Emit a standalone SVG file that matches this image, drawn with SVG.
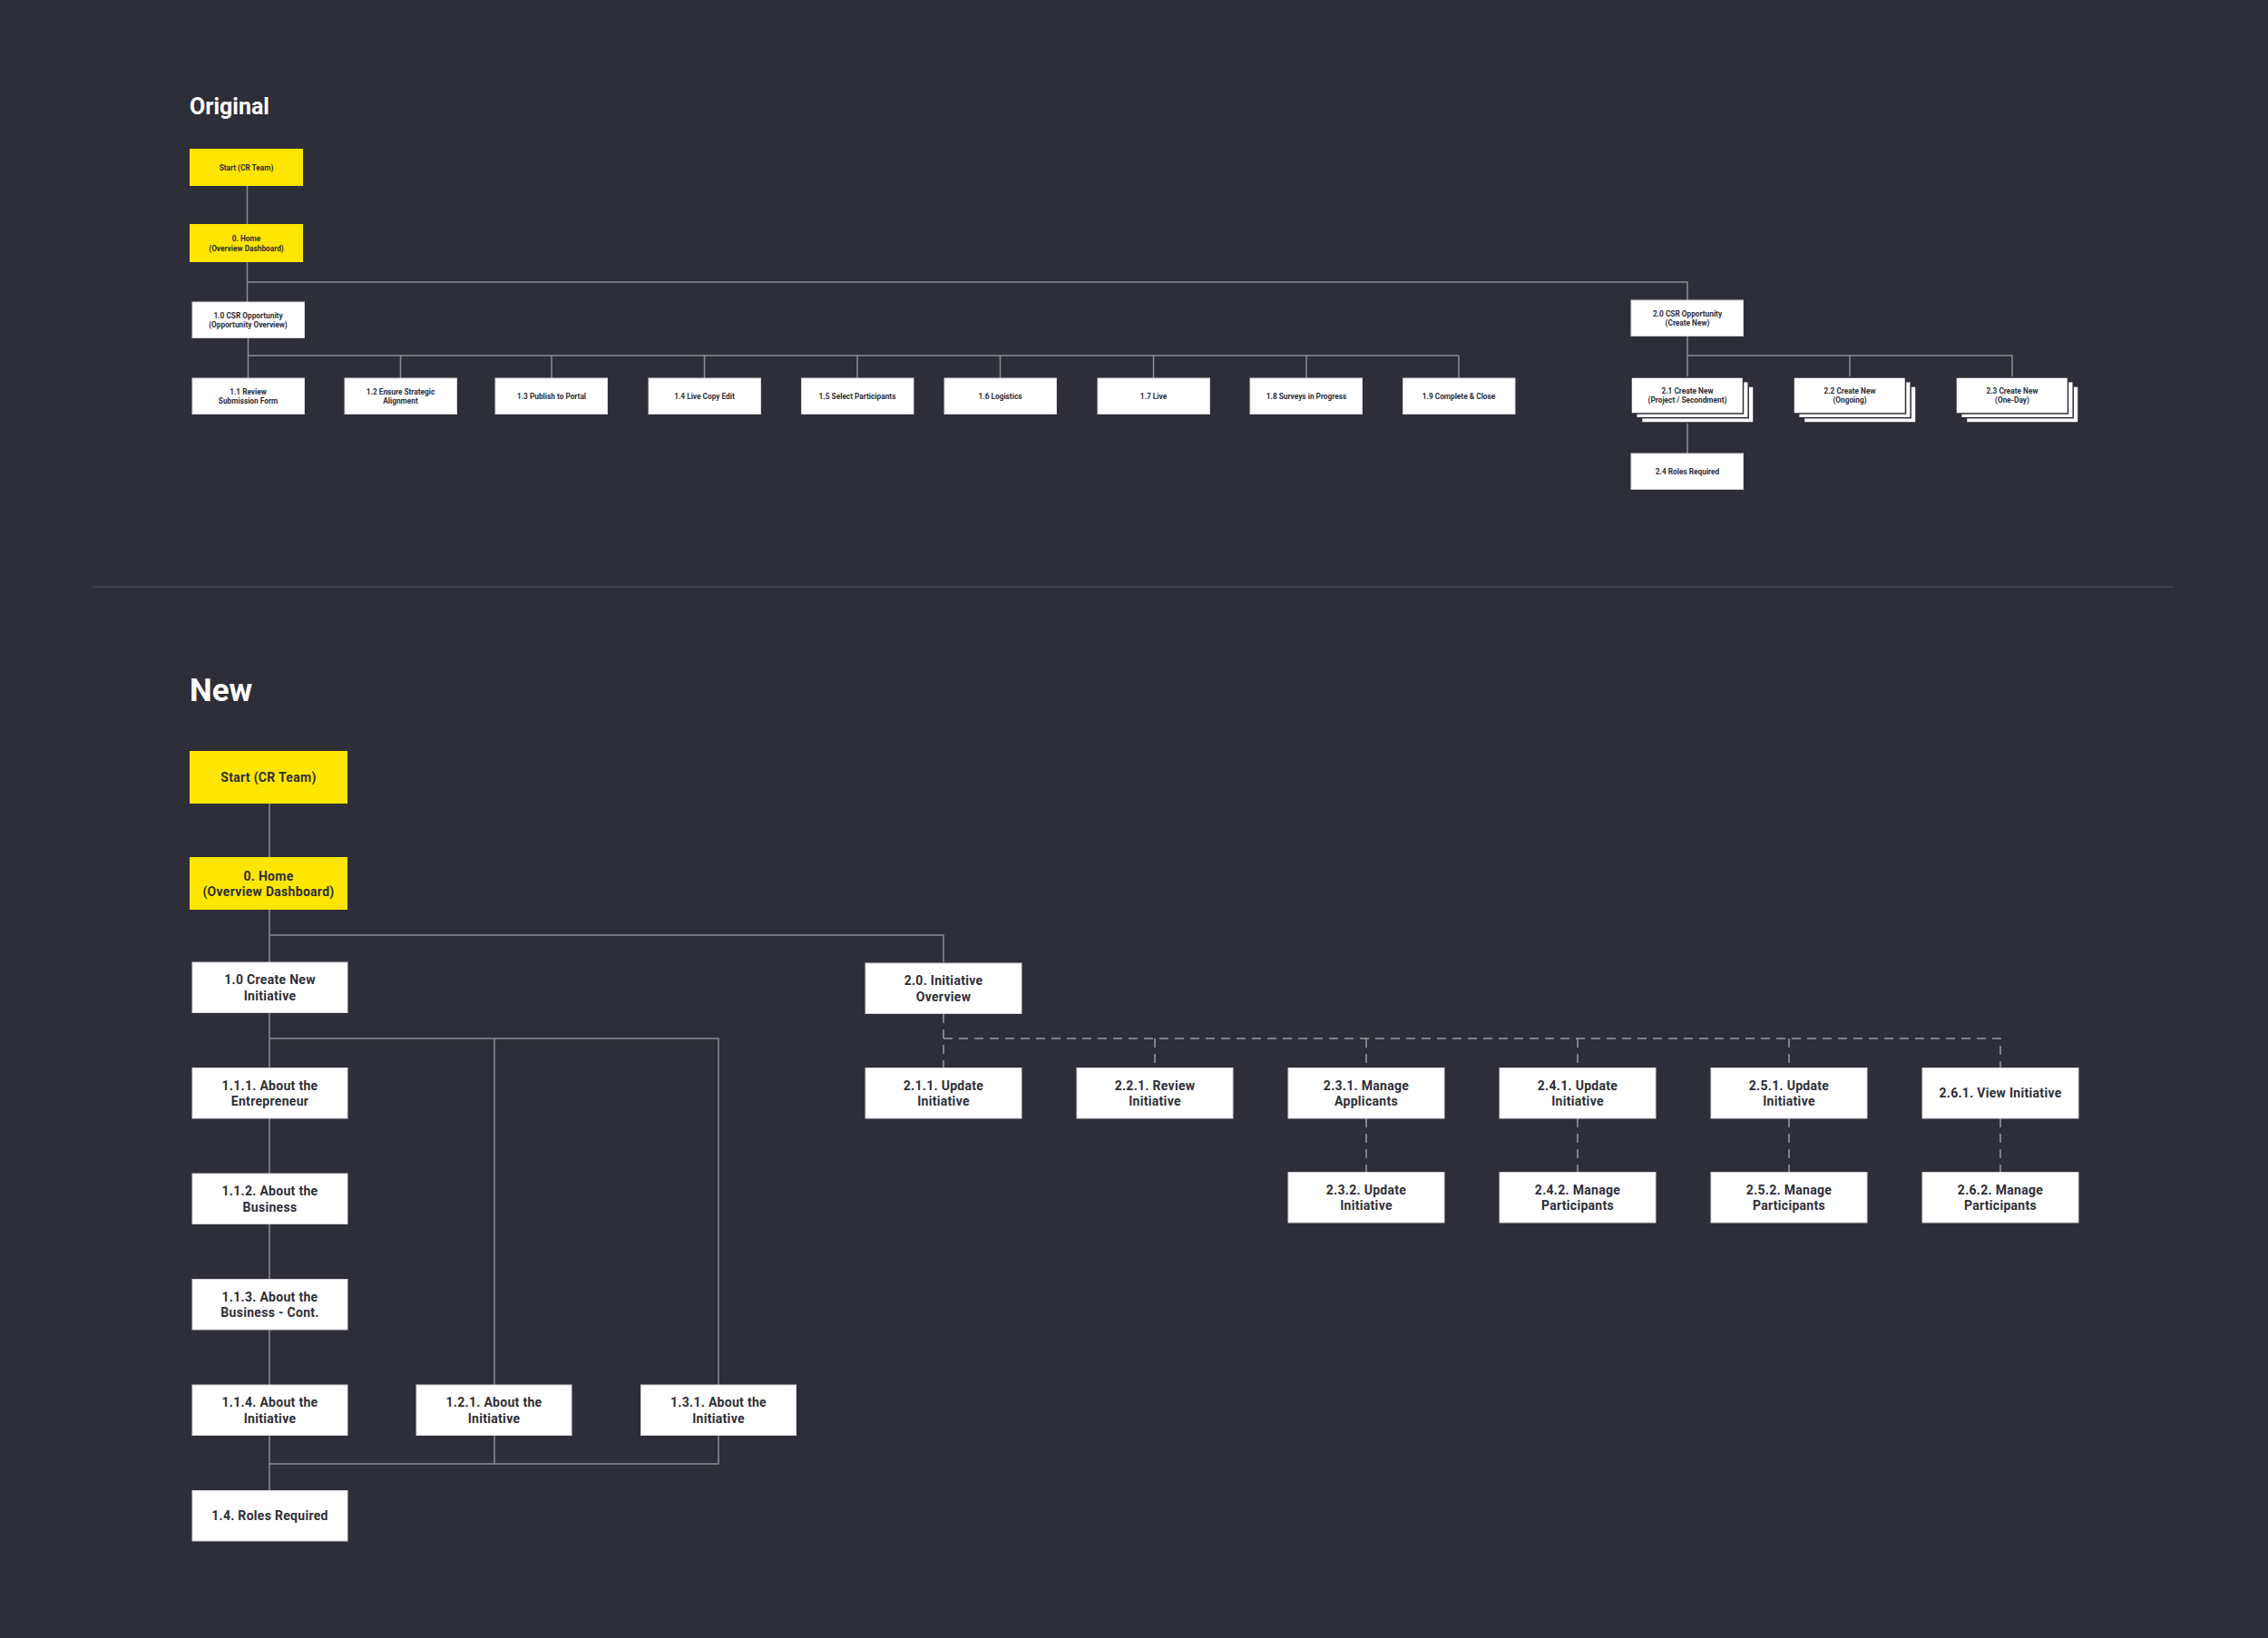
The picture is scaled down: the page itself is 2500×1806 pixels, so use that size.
<svg xmlns="http://www.w3.org/2000/svg" width="2500" height="1806" viewBox="0 0 2500 1806">
<style>
.bg{fill:#2e2e38}
.y{fill:#ffe600}
.w{fill:#ffffff;stroke:#d6d6dc;stroke-width:1}
.stk{fill:#ffffff;stroke:#2e2e38;stroke-width:1.5}
.t{font-family:Roboto,"Liberation Sans",sans-serif;font-weight:700;fill:#2e2e38;text-anchor:middle;dominant-baseline:central}
.s{font-size:8.3px}
.m{font-size:14px;letter-spacing:0.3px}
.title{font-family:Roboto,"Liberation Sans",sans-serif;font-weight:700;fill:#ffffff}
.ln{fill:none;stroke:#8c8c96;stroke-width:1.5}
.dl{fill:none;stroke:#9a9aa4;stroke-width:1.5;stroke-dasharray:10 7}
.div{stroke:#45454f;stroke-width:1.5}
</style>
<rect class="bg" x="0" y="0" width="2500" height="1806"/>

<text class="title" x="209" y="126" font-size="25">Original</text>
<line class="div" x1="102" y1="647" x2="2396" y2="647"/>
<text class="title" x="209" y="773" font-size="35">New</text>

<g id="connectors">
  <path class="ln" d="M272.5 204V247M272.5 289V333M272.5 311H1860V331M273.5 372V417M273.5 392H1608M441.5 392V417M608 392V417M776.5 392V417M945 392V417M1102.5 392V417M1271.5 392V417M1440 392V417M1608 392V417M1860 371V416M1860 392H2218V416M2039 392V416M1860 466V500"/>
  <path class="ln" d="M297 886V945M297 1003V1061M297 1031H1040V1061M297 1117V1643M297 1145H792V1527M545 1145V1527M545 1582V1614M792 1582V1614H297"/>
  <path class="dl" d="M1040 1118V1177M1040 1145H2205V1177M1273 1145V1177M1506 1145V1177M1739 1145V1177M1972 1145V1177M1506 1233V1292M1739 1233V1292M1972 1233V1292M2205 1233V1292"/>
</g>

<g id="o-start"><rect class="y" x="209" y="164" width="125" height="41"/><text class="t s" x="271.5" y="184.5">Start (CR Team)</text></g>
<g id="o-home"><rect class="y" x="209" y="247" width="125" height="42"/><text class="t s" x="271.5" y="263">0. Home</text><text class="t s" x="271.5" y="273.5">(Overview Dashboard)</text></g>
<g id="o-1-0"><rect class="w" x="212" y="333" width="123.5" height="39.5"/><text class="t s" x="273.5" y="347.5">1.0 CSR Opportunity</text><text class="t s" x="273.5" y="358">(Opportunity Overview)</text></g>
<g id="o-1-1"><rect class="w" x="212" y="417" width="123.5" height="39.5"/><text class="t s" x="273.5" y="431.5">1.1 Review</text><text class="t s" x="273.5" y="442">Submission Form</text></g>
<g id="o-1-2"><rect class="w" x="380" y="417" width="123.5" height="39.5"/><text class="t s" x="441.5" y="431.5">1.2 Ensure Strategic</text><text class="t s" x="441.5" y="442">Alignment</text></g>
<g id="o-1-3"><rect class="w" x="546" y="417" width="123.5" height="39.5"/><text class="t s" x="608" y="436.5">1.3 Publish to Portal</text></g>
<g id="o-1-4"><rect class="w" x="715" y="417" width="123.5" height="39.5"/><text class="t s" x="776.5" y="436.5">1.4 Live Copy Edit</text></g>
<g id="o-1-5"><rect class="w" x="883.5" y="417" width="123.5" height="39.5"/><text class="t s" x="945" y="436.5">1.5 Select Participants</text></g>
<g id="o-1-6"><rect class="w" x="1041" y="417" width="123.5" height="39.5"/><text class="t s" x="1102.5" y="436.5">1.6 Logistics</text></g>
<g id="o-1-7"><rect class="w" x="1210" y="417" width="123.5" height="39.5"/><text class="t s" x="1271.5" y="436.5">1.7 Live</text></g>
<g id="o-1-8"><rect class="w" x="1378" y="417" width="123.5" height="39.5"/><text class="t s" x="1440" y="436.5">1.8 Surveys in Progress</text></g>
<g id="o-1-9"><rect class="w" x="1546.5" y="417" width="123.5" height="39.5"/><text class="t s" x="1608" y="436.5">1.9 Complete &amp; Close</text></g>
<g id="o-2-0"><rect class="w" x="1798" y="331" width="123.5" height="39.5"/><text class="t s" x="1860" y="345.5">2.0 CSR Opportunity</text><text class="t s" x="1860" y="356">(Create New)</text></g>
<g id="o-2-1"><rect class="stk" x="1809.5" y="426" width="123.5" height="40"/><rect class="stk" x="1803.7" y="420.7" width="123.5" height="40"/><rect class="stk" x="1798" y="416" width="123.5" height="40"/><text class="t s" x="1860" y="430.5">2.1 Create New</text><text class="t s" x="1860" y="441">(Project / Secondment)</text></g>
<g id="o-2-2"><rect class="stk" x="1988.5" y="426" width="123.5" height="40"/><rect class="stk" x="1982.7" y="420.7" width="123.5" height="40"/><rect class="stk" x="1977" y="416" width="123.5" height="40"/><text class="t s" x="2039" y="430.5">2.2 Create New</text><text class="t s" x="2039" y="441">(Ongoing)</text></g>
<g id="o-2-3"><rect class="stk" x="2167.5" y="426" width="123.5" height="40"/><rect class="stk" x="2161.7" y="420.7" width="123.5" height="40"/><rect class="stk" x="2156" y="416" width="123.5" height="40"/><text class="t s" x="2218" y="430.5">2.3 Create New</text><text class="t s" x="2218" y="441">(One-Day)</text></g>
<g id="o-2-4"><rect class="w" x="1798" y="500" width="123.5" height="39.5"/><text class="t s" x="1860" y="519.5">2.4 Roles Required</text></g>

<g id="n-start"><rect class="y" x="209" y="828" width="174" height="58"/><text class="t m" x="296" y="857">Start (CR Team)</text></g>
<g id="n-home"><rect class="y" x="209" y="945" width="174" height="58"/><text class="t m" x="296" y="965.5">0. Home</text><text class="t m" x="296" y="983">(Overview Dashboard)</text></g>
<g id="n-1-0"><rect class="w" x="212" y="1061" width="171" height="55.5"/><text class="t m" x="297.5" y="1080">1.0 Create New</text><text class="t m" x="297.5" y="1097.5">Initiative</text></g>
<g id="n-1-1-1"><rect class="w" x="212" y="1177.5" width="171" height="55.5"/><text class="t m" x="297.5" y="1196.5">1.1.1. About the</text><text class="t m" x="297.5" y="1214">Entrepreneur</text></g>
<g id="n-1-1-2"><rect class="w" x="212" y="1294" width="171" height="55.5"/><text class="t m" x="297.5" y="1313">1.1.2. About the</text><text class="t m" x="297.5" y="1330.5">Business</text></g>
<g id="n-1-1-3"><rect class="w" x="212" y="1410.5" width="171" height="55.5"/><text class="t m" x="297.5" y="1429.5">1.1.3. About the</text><text class="t m" x="297.5" y="1447">Business - Cont.</text></g>
<g id="n-1-1-4"><rect class="w" x="212" y="1527" width="171" height="55.5"/><text class="t m" x="297.5" y="1546">1.1.4. About the</text><text class="t m" x="297.5" y="1563.5">Initiative</text></g>
<g id="n-1-2-1"><rect class="w" x="459" y="1527" width="171" height="55.5"/><text class="t m" x="544.5" y="1546">1.2.1. About the</text><text class="t m" x="544.5" y="1563.5">Initiative</text></g>
<g id="n-1-3-1"><rect class="w" x="706.5" y="1527" width="171" height="55.5"/><text class="t m" x="792" y="1546">1.3.1. About the</text><text class="t m" x="792" y="1563.5">Initiative</text></g>
<g id="n-1-4"><rect class="w" x="212" y="1643.5" width="171" height="55.5"/><text class="t m" x="297.5" y="1671">1.4. Roles Required</text></g>
<g id="n-2-0"><rect class="w" x="954" y="1062" width="172" height="55.5"/><text class="t m" x="1040" y="1081">2.0. Initiative</text><text class="t m" x="1040" y="1098.5">Overview</text></g>
<g id="n-2-1-1"><rect class="w" x="954" y="1177.5" width="172" height="55.5"/><text class="t m" x="1040" y="1196.5">2.1.1. Update</text><text class="t m" x="1040" y="1214">Initiative</text></g>
<g id="n-2-2-1"><rect class="w" x="1187" y="1177.5" width="172" height="55.5"/><text class="t m" x="1273" y="1196.5">2.2.1. Review</text><text class="t m" x="1273" y="1214">Initiative</text></g>
<g id="n-2-3-1"><rect class="w" x="1420" y="1177.5" width="172" height="55.5"/><text class="t m" x="1506" y="1196.5">2.3.1. Manage</text><text class="t m" x="1506" y="1214">Applicants</text></g>
<g id="n-2-4-1"><rect class="w" x="1653" y="1177.5" width="172" height="55.5"/><text class="t m" x="1739" y="1196.5">2.4.1. Update</text><text class="t m" x="1739" y="1214">Initiative</text></g>
<g id="n-2-5-1"><rect class="w" x="1886" y="1177.5" width="172" height="55.5"/><text class="t m" x="1972" y="1196.5">2.5.1. Update</text><text class="t m" x="1972" y="1214">Initiative</text></g>
<g id="n-2-6-1"><rect class="w" x="2119" y="1177.5" width="172" height="55.5"/><text class="t m" x="2205" y="1205">2.6.1. View Initiative</text></g>
<g id="n-2-3-2"><rect class="w" x="1420" y="1292.5" width="172" height="55.5"/><text class="t m" x="1506" y="1311.5">2.3.2. Update</text><text class="t m" x="1506" y="1329">Initiative</text></g>
<g id="n-2-4-2"><rect class="w" x="1653" y="1292.5" width="172" height="55.5"/><text class="t m" x="1739" y="1311.5">2.4.2. Manage</text><text class="t m" x="1739" y="1329">Participants</text></g>
<g id="n-2-5-2"><rect class="w" x="1886" y="1292.5" width="172" height="55.5"/><text class="t m" x="1972" y="1311.5">2.5.2. Manage</text><text class="t m" x="1972" y="1329">Participants</text></g>
<g id="n-2-6-2"><rect class="w" x="2119" y="1292.5" width="172" height="55.5"/><text class="t m" x="2205" y="1311.5">2.6.2. Manage</text><text class="t m" x="2205" y="1329">Participants</text></g>
</svg>
